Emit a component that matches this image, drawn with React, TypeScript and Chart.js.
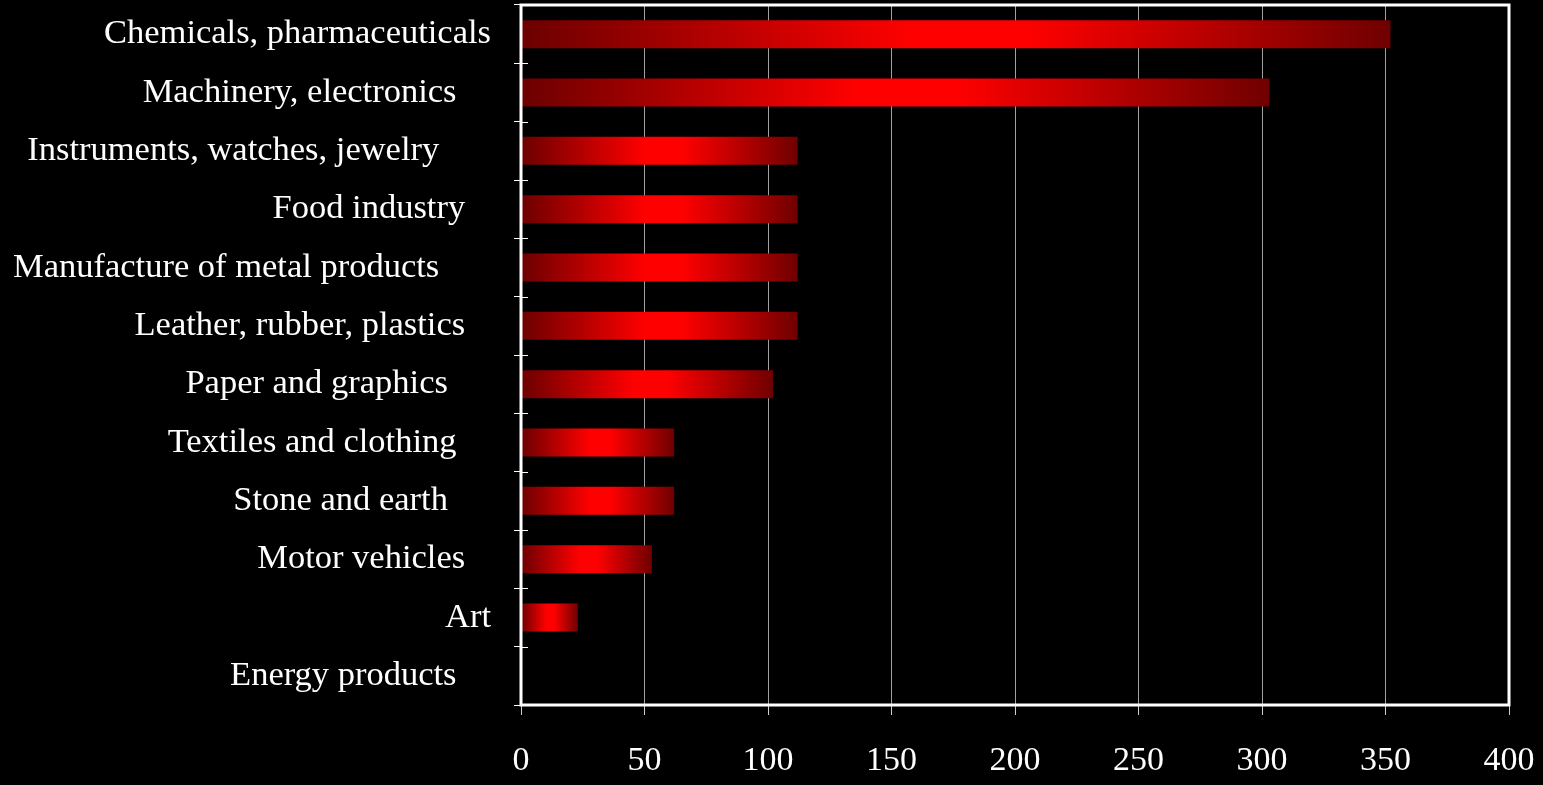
import React, { useEffect, useRef } from "react";
import { Chart, registerables } from "chart.js";

Chart.register(...registerables);

// Industry sectors (trailing spaces keep the original label spacing)
const categories: string[] = [
  "Chemicals, pharmaceuticals",
  "Machinery, electronics    ",
  "Instruments, watches, jewelry      ",
  "Food industry   ",
  "Manufacture of metal products      ",
  "Leather, rubber, plastics   ",
  "Paper and graphics     ",
  "Textiles and clothing    ",
  "Stone and earth     ",
  "Motor vehicles   ",
  "Art",
  "Energy products    ",
];

const values: number[] = [352, 303, 112, 112, 112, 112, 102, 62, 62, 53, 23, 0];

const xTickValues: number[] = [0, 50, 100, 150, 200, 250, 300, 350, 400];

const FONT_FAMILY = "'Liberation Serif', 'Times New Roman', serif";

// White frame around the plotting area, plus the inner halves of the
// category tick marks so they cross the left axis line
const framePlugin = {
  id: "plotFrame",
  afterDraw(chart: Chart) {
    const { ctx, chartArea } = chart;
    if (!chartArea) return;
    ctx.save();
    ctx.strokeStyle = "#ffffff";
    ctx.lineWidth = 3;
    ctx.strokeRect(
      chartArea.left,
      chartArea.top,
      chartArea.right - chartArea.left,
      chartArea.bottom - chartArea.top
    );
    const ys: any = chart.scales.y;
    ctx.lineWidth = 1;
    for (let i = 1; i < categories.length; i++) {
      const y = Math.round(ys.getPixelForValue(i - 0.5)) + 0.5;
      ctx.beginPath();
      ctx.moveTo(chartArea.left, y);
      ctx.lineTo(chartArea.left + 7, y);
      ctx.stroke();
    }
    ctx.restore();
  },
};

// Black page background
const backgroundPlugin = {
  id: "blackBackground",
  beforeDraw(chart: Chart) {
    const { ctx, width, height } = chart;
    ctx.save();
    ctx.fillStyle = "#000000";
    ctx.fillRect(0, 0, width, height);
    ctx.restore();
  },
};

export default function App() {
  const canvasRef = useRef<HTMLCanvasElement | null>(null);

  useEffect(() => {
    document.body.style.margin = "0";
    document.body.style.background = "#000";
    const canvas = canvasRef.current;
    if (!canvas) return;

    const chart = new Chart(canvas, {
      type: "bar",
      data: {
        labels: categories,
        datasets: [
          {
            data: values,
            borderWidth: 0,
            barPercentage: 0.48,
            categoryPercentage: 1,
            backgroundColor: (ctx: any) => {
              const c = ctx.chart;
              if (!c.chartArea || ctx.type !== "data") return "#b00000";
              const xs = c.scales.x;
              const x0 = xs.getPixelForValue(0);
              const x1 = xs.getPixelForValue(ctx.raw as number);
              if (x1 - x0 < 1) return "#700000";
              // dark ends, bright red centre along each bar
              const g = c.ctx.createLinearGradient(x0, 0, x1, 0);
              g.addColorStop(0, "#6c0000");
              g.addColorStop(0.45, "#ff0000");
              g.addColorStop(0.58, "#ff0000");
              g.addColorStop(1, "#700000");
              return g;
            },
          },
        ],
      },
      options: {
        indexAxis: "y",
        responsive: true,
        maintainAspectRatio: false,
        animation: false,
        devicePixelRatio: 1,
        layout: { padding: { top: 5, right: 34, left: 0, bottom: 0 } },
        plugins: {
          legend: { display: false },
          tooltip: { enabled: false },
        },
        scales: {
          x: {
            type: "linear",
            min: 0,
            max: 400,
            afterFit: (scale: any) => {
              scale.height = 80;
              scale.paddingLeft = 0;
              scale.paddingRight = 0;
            },
            afterBuildTicks: (scale: any) => {
              scale.ticks = xTickValues.map((v) => ({ value: v }));
            },
            grid: {
              color: "#a0a0a0",
              lineWidth: 1,
              tickLength: 10,
              tickColor: "#d0d0d0",
            },
            border: { display: false },
            ticks: {
              color: "#ffffff",
              padding: 26,
              maxRotation: 0,
              font: { family: FONT_FAMILY, size: 34 },
            },
          },
          y: {
            type: "category",
            afterFit: (scale: any) => {
              scale.width = 521;
              scale.paddingTop = 0;
              scale.paddingBottom = 0;
            },
            grid: {
              offset: true,
              drawOnChartArea: false,
              tickLength: 7,
              tickColor: "#ffffff",
              lineWidth: 1,
            },
            border: { display: false },
            ticks: {
              color: "#ffffff",
              padding: 23,
              autoSkip: false,
              font: { family: FONT_FAMILY, size: 34.5 },
            },
          },
        },
      },
      plugins: [backgroundPlugin, framePlugin],
    });

    return () => chart.destroy();
  }, []);

  return (
    <div
      style={{
        position: "fixed",
        left: 0,
        top: 0,
        width: 1543,
        height: 785,
        background: "#000",
      }}
    >
      <canvas ref={canvasRef} />
    </div>
  );
}
